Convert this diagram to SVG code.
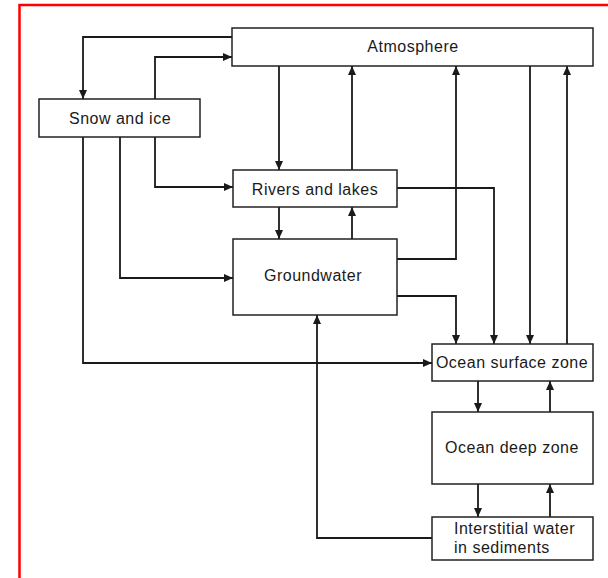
<svg xmlns="http://www.w3.org/2000/svg" width="608" height="578" viewBox="0 0 608 578">
<style>
.box{fill:#fff;stroke:#222;stroke-width:1.5}
.lbl{font-family:"Liberation Sans",Arial,sans-serif;font-size:16px;fill:#1a1a1a;letter-spacing:0.5px}
.c{text-anchor:middle}
.con{fill:none;stroke:#1a1a1a;stroke-width:1.8;marker-end:url(#ah)}
</style>
<defs>
<marker id="ah" markerUnits="userSpaceOnUse" markerWidth="9" markerHeight="8" refX="9" refY="4" orient="auto">
<path d="M0,0 L9,4 L0,8 z" fill="#1a1a1a"/>
</marker>
</defs>
<rect width="608" height="578" fill="#fff"/>
<path d="M19.5,578 V5 H608" fill="none" stroke="#f00" stroke-width="2.5"/>
<g id="connectors">
<path class="con" d="M232,37 H83 V99"/>
<path class="con" d="M155,99 V57 H232"/>
<path class="con" d="M83,137 V363 H432"/>
<path class="con" d="M120,137 V278 H233"/>
<path class="con" d="M155,137 V187 H233"/>
<path class="con" d="M279,66 V170"/>
<path class="con" d="M352,170 V66"/>
<path class="con" d="M279,207 V239"/>
<path class="con" d="M352,239 V207"/>
<path class="con" d="M397,259 H456 V66"/>
<path class="con" d="M397,296 H456 V344"/>
<path class="con" d="M397,188 H494 V344"/>
<path class="con" d="M530,66 V344"/>
<path class="con" d="M567,344 V66"/>
<path class="con" d="M478,381 V412"/>
<path class="con" d="M550,412 V381"/>
<path class="con" d="M478,484 V517"/>
<path class="con" d="M550,517 V484"/>
<path class="con" d="M432,538 H317 V315"/>
</g>
<g id="atmosphere">
<rect class="box" x="232" y="28" width="361" height="38"/>
<text class="lbl c" x="413" y="52">Atmosphere</text>
</g>
<g id="snow">
<rect class="box" x="39" y="99" width="161" height="38"/>
<text class="lbl c" x="120" y="124">Snow and ice</text>
</g>
<g id="rivers">
<rect class="box" x="233" y="170" width="164" height="37"/>
<text class="lbl c" x="315" y="195">Rivers and lakes</text>
</g>
<g id="groundwater">
<rect class="box" x="233" y="239" width="164" height="76"/>
<text class="lbl c" x="313" y="281">Groundwater</text>
</g>
<g id="ocean-surface">
<rect class="box" x="432" y="344" width="161" height="37"/>
<text class="lbl c" x="512" y="368">Ocean surface zone</text>
</g>
<g id="ocean-deep">
<rect class="box" x="432" y="412" width="161" height="72"/>
<text class="lbl c" x="512" y="453">Ocean deep zone</text>
</g>
<g id="interstitial">
<rect class="box" x="432" y="517" width="161" height="43"/>
<text class="lbl" x="454" y="534">Interstitial water</text>
<text class="lbl" x="454" y="553">in sediments</text>
</g>
</svg>
